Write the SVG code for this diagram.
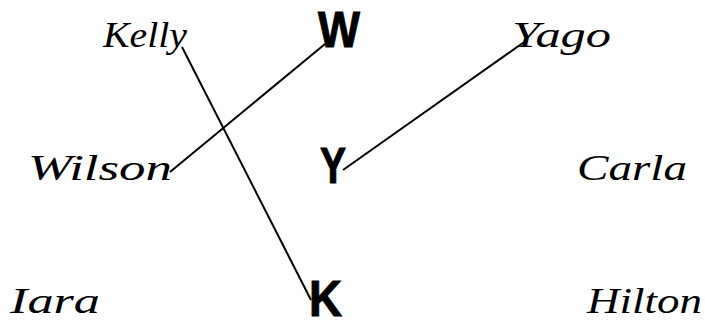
<svg xmlns="http://www.w3.org/2000/svg" width="705" height="320" viewBox="0 0 705 320">
<style>
.name{font-family:"Liberation Serif","DejaVu Serif",serif;font-style:italic;font-size:36px;fill:#000}
.letter{font-family:"Liberation Sans",Arial,sans-serif;font-weight:bold;font-size:50px;fill:#000;stroke:#000;stroke-width:1}
.conn line{stroke:#000;stroke-width:2;fill:none}
</style>
<rect width="705" height="320" fill="#fff"/>
<g id="kelly"><text class="name" x="103" y="47" textLength="84" lengthAdjust="spacingAndGlyphs">Kelly</text></g>
<g id="wilson"><text class="name" x="28" y="180" textLength="144" lengthAdjust="spacingAndGlyphs">Wilson</text></g>
<g id="iara"><text class="name" x="10" y="313" textLength="90" lengthAdjust="spacingAndGlyphs">Iara</text></g>
<g id="yago"><text class="name" x="512" y="47" textLength="99" lengthAdjust="spacingAndGlyphs">Yago</text></g>
<g id="carla"><text class="name" x="577" y="180" textLength="110" lengthAdjust="spacingAndGlyphs">Carla</text></g>
<g id="hilton"><text class="name" x="587" y="313" textLength="115" lengthAdjust="spacingAndGlyphs">Hilton</text></g>
<g id="W"><text class="letter" x="318" y="47" textLength="42" lengthAdjust="spacingAndGlyphs">W</text></g>
<g id="Y"><text class="letter" x="320" y="183" textLength="26" lengthAdjust="spacingAndGlyphs">Y</text></g>
<g id="K"><text class="letter" x="309" y="316" textLength="33" lengthAdjust="spacingAndGlyphs">K</text></g>
<g id="connectors" class="conn">
<line x1="182" y1="47" x2="311" y2="300"/>
<line x1="325" y1="44" x2="170" y2="172"/>
<line x1="527" y1="40" x2="343" y2="170"/>
</g>
</svg>
